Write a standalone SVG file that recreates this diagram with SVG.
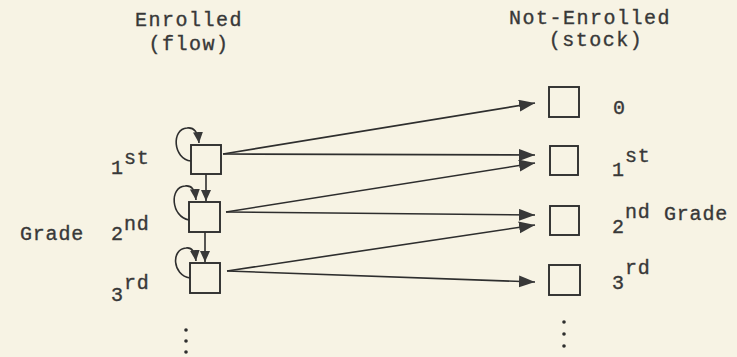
<svg xmlns="http://www.w3.org/2000/svg" width="737" height="357" viewBox="0 0 737 357">
<defs>
<style>
text{font-family:"Liberation Mono","DejaVu Sans Mono",monospace;font-size:20px;fill:#383838;stroke:#383838;stroke-width:0.35px;letter-spacing:0.8px}
.hd{letter-spacing:1.5px;text-anchor:middle}
.box{fill:none;stroke:#2e2e2e;stroke-width:1.9}
.ln{fill:none;stroke:#2e2e2e;stroke-width:1.6}
.dot{fill:#2e2e2e}
</style>
<marker id="big" markerUnits="userSpaceOnUse" markerWidth="17" markerHeight="13" refX="16" refY="6" orient="auto">
<path d="M0,0 L16,6 L0,12 z" fill="#383838"/>
</marker>
<marker id="sm" markerUnits="userSpaceOnUse" markerWidth="12" markerHeight="11" refX="11" refY="5" orient="auto">
<path d="M0,0 L11,5 L0,10 z" fill="#383838"/>
</marker>
</defs>
<rect width="737" height="357" fill="#f7f3e4"/>

<text class="hd" x="189" y="26">Enrolled</text>
<text class="hd" x="189" y="50">(flow)</text>
<text class="hd" x="590" y="24">Not-Enrolled</text>
<text class="hd" x="596" y="46">(stock)</text>

<g id="e1"><rect class="box" x="191" y="145" width="30" height="29"/></g>
<g id="e2"><rect class="box" x="189" y="202" width="31" height="30"/></g>
<g id="e3"><rect class="box" x="190" y="263" width="30" height="30"/></g>

<g id="n0"><rect class="box" x="549" y="87" width="30" height="30"/></g>
<g id="n1"><rect class="box" x="550" y="146" width="28" height="29"/></g>
<g id="n2"><rect class="box" x="550" y="206" width="29" height="29"/></g>
<g id="n3"><rect class="box" x="549" y="265" width="31" height="30"/></g>

<g id="connectors">
<path class="ln" d="M191,161 C173,159 171,129 187,128 C194,127 198,132 199,143" marker-end="url(#sm)"/>
<path class="ln" d="M189,220 C171,217 169,187 185,186 C192,185 195,190 196,200" marker-end="url(#sm)"/>
<path class="ln" d="M190,278 C172,275 171,249 186,248 C192,247 195,252 196,261" marker-end="url(#sm)"/>
<line class="ln" x1="206" y1="174" x2="206" y2="201" marker-end="url(#sm)"/>
<line class="ln" x1="205" y1="232" x2="205" y2="262" marker-end="url(#sm)"/>

<line class="ln" x1="223" y1="154" x2="535" y2="103" marker-end="url(#big)"/>
<line class="ln" x1="223" y1="154" x2="535" y2="155" marker-end="url(#big)"/>
<line class="ln" x1="226" y1="212" x2="535" y2="163" marker-end="url(#big)"/>
<line class="ln" x1="226" y1="212" x2="535" y2="215" marker-end="url(#big)"/>
<line class="ln" x1="227" y1="271" x2="535" y2="225" marker-end="url(#big)"/>
<line class="ln" x1="227" y1="271" x2="535" y2="282" marker-end="url(#big)"/>
</g>

<text x="111" y="174">1</text><text x="124" y="164">st</text>
<text x="111" y="240">2</text><text x="124" y="230">nd</text>
<text x="20" y="240">Grade</text>
<text x="111" y="301">3</text><text x="124" y="289">rd</text>

<text x="613" y="114">0</text>
<text x="612" y="176">1</text><text x="625" y="162">st</text>
<text x="612" y="233">2</text><text x="625" y="218">nd</text>
<text x="664" y="220">Grade</text>
<text x="612" y="289">3</text><text x="625" y="274">rd</text>

<circle class="dot" cx="186" cy="330" r="1.8"/>
<circle class="dot" cx="186" cy="341" r="1.8"/>
<circle class="dot" cx="186" cy="352" r="1.8"/>
<circle class="dot" cx="564" cy="322" r="1.8"/>
<circle class="dot" cx="564" cy="334" r="1.8"/>
<circle class="dot" cx="564" cy="346" r="1.8"/>
</svg>
